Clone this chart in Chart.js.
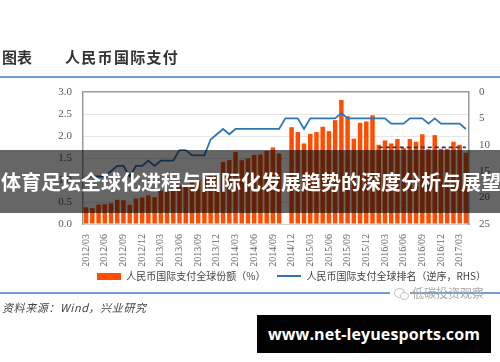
<!DOCTYPE html>
<html>
<head>
<meta charset="utf-8">
<script src="https://cdn.jsdelivr.net/npm/chart.js@4"></script>
<style>
html, body { margin: 0; padding: 0; background: #fff; }
body { width: 500px; height: 362px; overflow: hidden; position: relative; font-family: "Noto Sans CJK SC", sans-serif; }
#myChart { position: absolute; left: 0; top: 0; }
.abs { position: absolute; white-space: nowrap; }
.rule { position: absolute; left: 0; width: 500px; height: 1.5px; background: #6f9fd0; }
.wx { position: absolute; border: 1px solid #c4c4c4; border-radius: 50%; background: #fff; }
</style>
</head>
<body>
<canvas id="myChart" width="500" height="362"></canvas>
<div class="abs" style="left:2px;top:46px;font-size:15px;font-weight:700;color:#333;line-height:22px">图表</div>
<div class="abs" style="left:65px;top:46px;font-size:15px;font-weight:700;color:#333;line-height:22px;letter-spacing:1.3px">人民币国际支付</div>
<div class="rule" style="top:76px"></div>
<div class="rule" style="top:292px"></div>
<div class="abs" style="left:390px;top:284px;width:20px;height:18px;background:#fff"></div>
<div class="wx" style="left:394px;top:288px;width:9px;height:8px"></div>
<div class="wx" style="left:400px;top:292px;width:7px;height:6px"></div>
<div class="abs" style="left:412px;top:285px;font-size:12px;color:#aaa;line-height:15px">低碳投资观察</div>
<div class="abs" style="left:2px;top:300px;font-size:11px;font-style:italic;color:#444;line-height:15px;letter-spacing:.6px">资料来源：Wind，兴业研究</div>
<div class="abs" style="left:0;top:150px;width:500px;height:63px;background:rgba(0,0,0,.6)"></div>
<div class="abs" style="left:1px;top:150px;width:500px;height:63px;line-height:63px;text-align:center;font-size:20px;font-weight:700;color:#fff">体育足坛全球化进程与国际化发展趋势的深度分析与展望</div>
<div class="abs" style="left:257px;top:315px;width:234px;height:38px;background:#000;color:#fff;font:700 16px/38px 'Open Sans',sans-serif;text-align:center;letter-spacing:.1px">www.net-leyuesports.com</div>
<script>
const months = [
    '2012/03','2012/04','2012/05','2012/06','2012/07','2012/08','2012/09','2012/10','2012/11','2012/12',
    '2013/01','2013/02','2013/03','2013/04','2013/05','2013/06','2013/07','2013/08','2013/09','2013/10','2013/11','2013/12',
    '2014/01','2014/02','2014/03','2014/04','2014/05','2014/06','2014/07','2014/08','2014/09','2014/10','2014/11','2014/12',
    '2015/01','2015/02','2015/03','2015/04','2015/05','2015/06','2015/07','2015/08','2015/09','2015/10','2015/11','2015/12',
    '2016/01','2016/02','2016/03','2016/04','2016/05','2016/06','2016/07','2016/08','2016/09','2016/10','2016/11','2016/12',
    '2017/01','2017/02','2017/03','2017/04'
];

const shareValues = [
    0.38,0.36,0.44,0.45,0.47,0.55,0.54,0.44,0.58,0.60,
    0.65,0.61,0.76,0.74,0.80,0.88,0.91,0.95,1.00,1.05,1.10,1.14,
    1.41,1.45,1.64,1.45,1.49,1.57,1.58,1.66,1.74,1.60,null,2.20,
    2.09,1.83,2.05,2.09,2.21,2.11,2.36,2.82,2.45,1.94,2.30,2.33,
    2.47,1.80,1.90,1.83,1.93,1.73,1.93,1.87,2.04,1.70,2.02,1.71,
    1.71,1.87,1.80,1.62
];

const rankValues = [
    16,16,16,16,15,14,14,16,14,14,
    13,14,13,13,13,11,11,12,12,12,9,8,
    7,8,7,7,7,7,7,7,7,7,5,5,
    5,7,5,5,5,5,5,4,5,5,5,5,
    5,5,5,6,6,6,5,5,5,6,5,6,
    6,6,6,7
];

const dashValues = [
    null,null,null,null,null,null,null,null,null,null,
    null,null,null,null,null,null,null,null,null,null,null,null,
    null,null,null,null,null,null,null,null,null,null,null,null,
    null,null,null,null,null,null,null,null,null,null,null,null,
    null,10.5,10.5,10.5,10.5,10.5,10.5,10.5,10.5,10.5,10.5,10.5,
    10.5,10.5,10.5,10.5
];

const share = {
    type: 'bar',
    label: '人民币国际支付全球份额（%）',
    backgroundColor: '#ff4e00',
    barPercentage: 0.72,
    categoryPercentage: 1,
    yAxisID: 'y',
    order: 3,
    data: shareValues,
};

const rank = {
    type: 'line',
    label: '人民币国际支付全球排名（逆序，RHS）',
    borderColor: '#2e75b6',
    backgroundColor: '#2e75b6',
    borderWidth: 1.8,
    pointRadius: 0,
    tension: 0,
    yAxisID: 'y1',
    order: 1,
    data: rankValues,
};

const dashed = {
    type: 'line',
    label: 'dash',
    borderColor: '#1f3864',
    borderWidth: 1.8,
    borderDash: [4, 3],
    pointRadius: 0,
    yAxisID: 'y1',
    order: 2,
    data: dashValues,
};

// legend swatches: a block for the bars, a thin stroke for the line
function swatch(color, h) {
    const c = document.createElement('canvas');
    c.width = 24;
    c.height = h;
    const g = c.getContext('2d');
    g.fillStyle = color;
    g.fillRect(0, 0, 24, h);
    return c;
}

// the legend sits right of centre, not against the canvas edge
const moveLegend = {
    id: 'moveLegend',
    beforeDraw(chart) {
        chart.legend.right = 498;
        chart.legend.top = 259;
    },
};

const tickFont = { family: '"Liberation Serif", serif', size: 10 };

const config = {
    data: { labels: months, datasets: [share, rank, dashed] },
    plugins: [moveLegend],
    options: {
        responsive: false,
        animation: false,
        layout: { padding: { top: 92, bottom: 63, left: 0, right: 0 } },
        plugins: {
            tooltip: { enabled: false },
            legend: {
                position: 'bottom',
                align: 'end',
                labels: {
                    generateLabels: (chart) => Chart.defaults.plugins.legend.labels.generateLabels(chart)
                        .filter((item) => item.text !== 'dash')
                        .map((item) => ({ ...item, pointStyle: swatch(item.fillStyle, item.text.includes('份额') ? 7 : 2) }))
                        .sort((a, b) => a.datasetIndex - b.datasetIndex),
                    font: { family: '"Noto Sans CJK SC", sans-serif', size: 10 },
                    color: '#444',
                    usePointStyle: true,
                    pointStyleWidth: 24,
                    boxHeight: 7,
                    padding: 12,
                },
            },
        },
        scales: {
            x: {
                grid: { display: false },
                border: { color: '#d0d0d0' },
                afterFit: (s) => { s.height = 43; },
                ticks: {
                    autoSkip: false,
                    minRotation: 90,
                    maxRotation: 90,
                    font: tickFont,
                    color: '#666',
                    padding: 2,
                    callback: (v, i) => (i % 3 === 0 && i < 61 ? months[i] : ''),
                },
            },
            y: {
                position: 'left',
                min: 0,
                max: 3,
                afterFit: (s) => { s.width = 83; },
                grid: {
                    drawTicks: false,
                    color: (c) => (c.tick.value === 3 ? '#999' : '#e6e6e6'),
                    lineWidth: (c) => (c.tick.value === 3 ? 1.5 : 1),
                },
                border: { color: '#999', width: 1.5 },
                ticks: {
                    stepSize: 0.5,
                    font: { family: tickFont.family, size: 11 },
                    color: '#595959',
                    padding: 11,
                    callback: (v) => v.toFixed(1),
                },
            },
            y1: {
                position: 'right',
                reverse: true,
                min: 0,
                max: 25,
                afterFit: (s) => { s.width = 31; },
                grid: { display: false, drawTicks: false },
                border: { color: '#999', width: 1.5 },
                ticks: {
                    stepSize: 5,
                    font: { family: tickFont.family, size: 11 },
                    color: '#595959',
                    padding: 10,
                },
            },
        },
    },
};

const myChart = new Chart(document.getElementById('myChart'), config);
</script>
</body>
</html>
